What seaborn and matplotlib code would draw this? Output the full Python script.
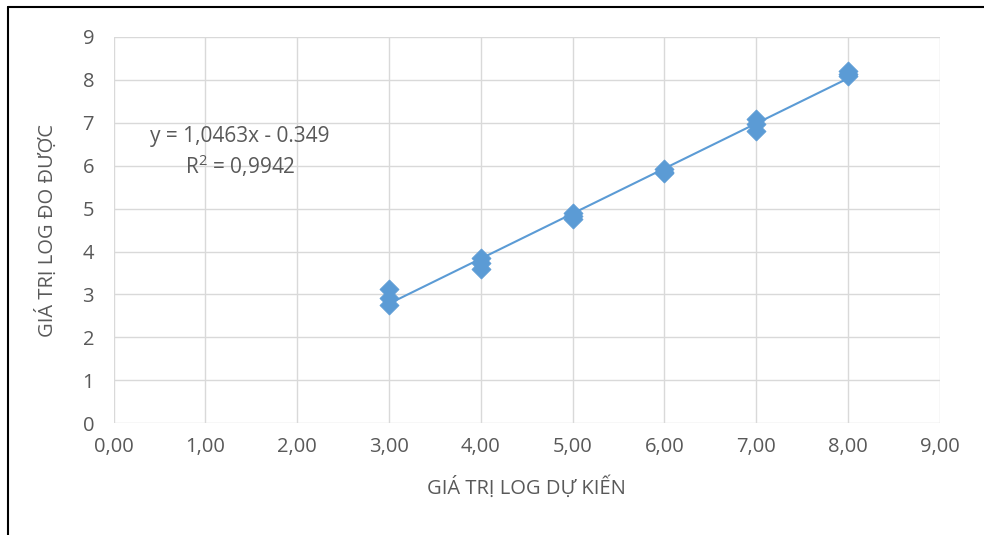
import matplotlib
matplotlib.use("Agg")
import matplotlib.pyplot as plt
from matplotlib.lines import Line2D
import numpy as np
import pandas as pd
import seaborn as sns

# giá trị log dự kiến (x) và giá trị log đo được (y)
expected = [3, 3, 3, 4, 4, 4, 5, 5, 5, 6, 6, 6, 7, 7, 7, 8, 8, 8]
measured = [3.12, 2.92, 2.76, 3.85, 3.74, 3.60, 4.90, 4.82, 4.76,
            5.92, 5.86, 5.83, 7.08, 6.96, 6.80, 8.20, 8.13, 8.10]
x_ticks = [0, 1, 2, 3, 4, 5, 6, 7, 8, 9]
y_ticks = [0, 1, 2, 3, 4, 5, 6, 7, 8, 9]
eq_text = "y = 1,0463x - 0.349"
r2_text = "R$^2$ = 0,9942"

df = pd.DataFrame({"expected": expected, "measured": measured})

sns.set_theme(style="white")
plt.rcParams["font.family"] = ["Open Sans", "DejaVu Sans"]
plt.rcParams["mathtext.default"] = "regular"

blue = "#5B9BD5"
grey = "#595959"

fig = plt.figure(figsize=(9.84, 5.35), dpi=100)
ax = fig.add_axes([0.1154, 0.209, 0.8396, 0.722])

sns.regplot(data=df, x="expected", y="measured", ax=ax, scatter=False,
            ci=None, truncate=True, line_kws={"color": blue, "lw": 1.5})
sns.scatterplot(data=df, x="expected", y="measured", ax=ax, marker="D",
                s=95, color=blue, edgecolor=blue, linewidth=0.5, zorder=3)

ax.set_xlim(0, 9)
ax.set_ylim(0, 9)
ax.set_xticks(x_ticks)
ax.set_xticklabels([f"{v:.2f}".replace(".", ",") for v in x_ticks])
ax.set_yticks(y_ticks)
ax.set_yticklabels([str(v) for v in y_ticks])
ax.tick_params(length=0, labelsize=14.5, labelcolor=grey)
ax.tick_params(axis="y", pad=14)
ax.tick_params(axis="x", pad=10)
ax.grid(True, color="#D9D9D9", lw=1)
ax.set_axisbelow(True)
for s in ax.spines.values():
    s.set_visible(False)

ax.set_xlabel("GIÁ TRỊ LOG DỰ KIẾN", fontsize=14.5, color=grey, labelpad=14)
ax.set_ylabel("GIÁ TRỊ LOG ĐO ĐƯỢC", fontsize=14.5, color=grey, labelpad=18)

ax.text(1.38, 6.69, eq_text, ha="center", va="center", fontsize=15, color=grey)
ax.text(1.38, 6.01, r2_text, ha="center", va="center", fontsize=15, color=grey)

# khung ngoài
fig.add_artist(Line2D([0.0081, 0.0081], [0, 0.987], transform=fig.transFigure,
                      color="black", lw=1.5))
fig.add_artist(Line2D([0.0081, 1], [0.987, 0.987], transform=fig.transFigure,
                      color="black", lw=1.5))

fig.savefig("out.png", dpi=100)
